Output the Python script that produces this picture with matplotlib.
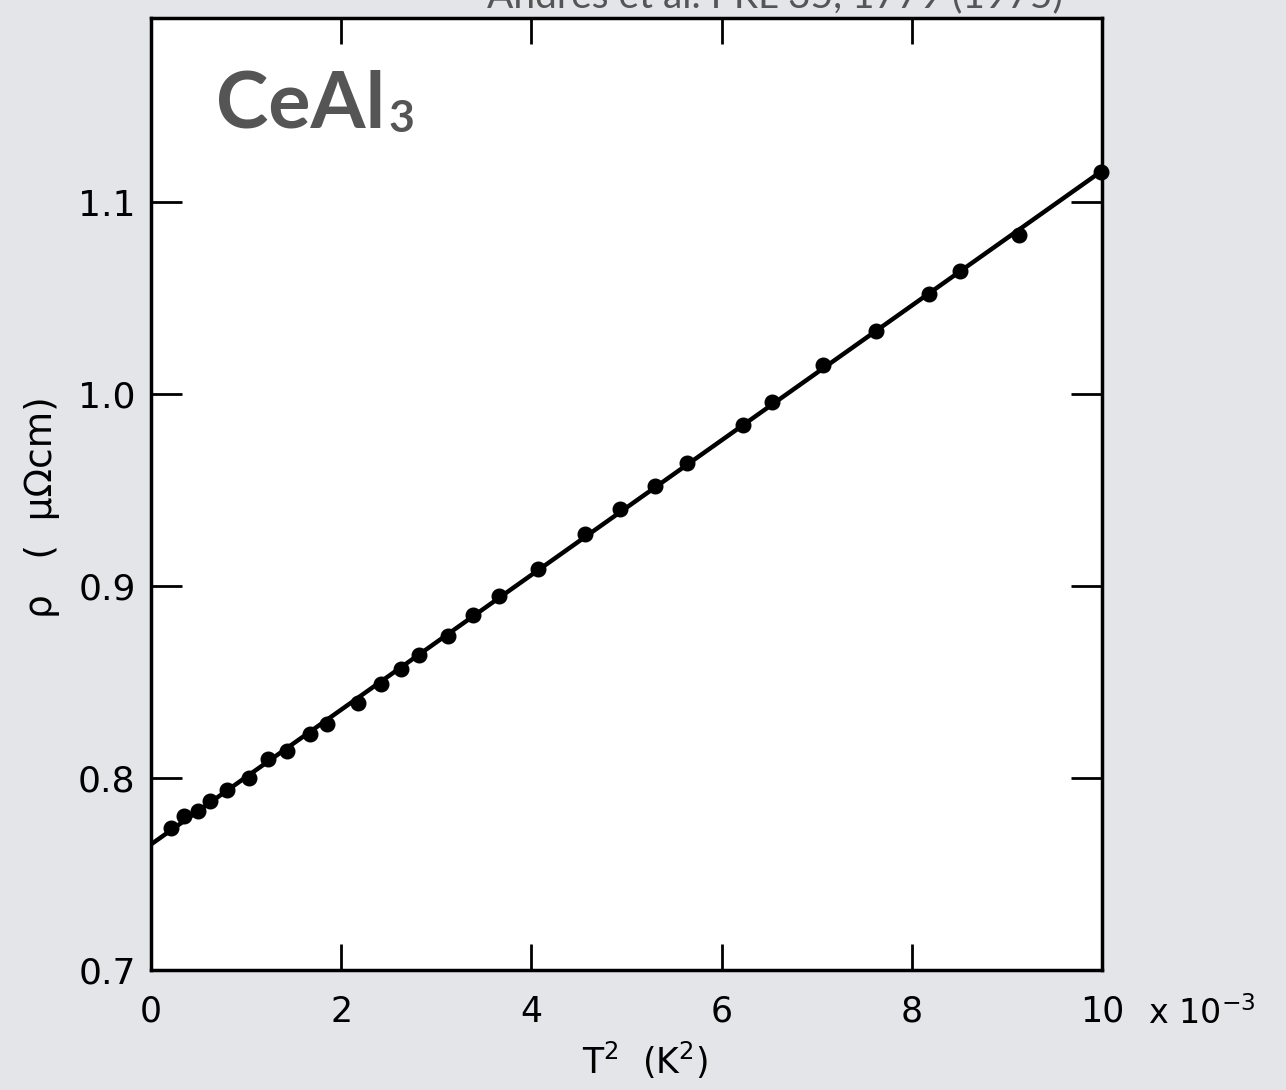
import numpy as np
import matplotlib
matplotlib.use("Agg")
import matplotlib.pyplot as plt

# resistivity of CeAl3 vs T^2 (T^2 in units of 1e-3 K^2)
t2 = [0.21, 0.35, 0.49, 0.62, 0.80, 1.03, 1.23, 1.43, 1.67, 1.85,
      2.18, 2.42, 2.63, 2.82, 3.12, 3.39, 3.66, 4.07, 4.56, 4.93,
      5.30, 5.64, 6.22, 6.53, 7.07, 7.62, 8.18, 8.51, 9.13, 9.99]
rho = [0.774, 0.780, 0.783, 0.788, 0.794, 0.800, 0.810, 0.814, 0.823, 0.828,
       0.839, 0.849, 0.857, 0.864, 0.874, 0.885, 0.895, 0.909, 0.927, 0.940,
       0.952, 0.964, 0.984, 0.996, 1.015, 1.033, 1.052, 1.064, 1.083, 1.116]

xticks = [0, 2, 4, 6, 8, 10]
yticks = [0.7, 0.8, 0.9, 1.0, 1.1]
ytick_labels = ["0.7", "0.8", "0.9", "1.0", "1.1"]

W, H = 1286, 1090
fig = plt.figure(figsize=(W / 100, H / 100), dpi=100)
fig.patch.set_facecolor("#e3e5e9")

ax = fig.add_axes([151 / W, 1 - 970 / H, (1102 - 151) / W, (970 - 18) / H])
ax.set_facecolor("white")

# straight-line fit through the points
coef = np.polyfit(t2, rho, 1)
xl = np.array([0, 10])
ax.plot(xl, np.polyval(coef, xl), color="black", lw=3.2, solid_capstyle="butt", zorder=2)
ax.plot(t2, rho, "o", color="black", ms=10.5, zorder=3, clip_on=False)

ax.set_xlim(0, 10)
ax.set_ylim(0.7, 1.196)
for s in ax.spines.values():
    s.set_linewidth(2.5)

ax.set_xticks(xticks)
ax.set_xticklabels([str(v) for v in xticks], fontsize=25)
ax.set_yticks(yticks)
ax.set_yticklabels(ytick_labels, fontsize=26)
ax.tick_params(axis="x", direction="in", length=19, width=2, pad=18, top=True, bottom=True)
ax.tick_params(axis="y", direction="in", length=22, width=2, pad=11, left=True, right=True)

# x axis label and exponent
fig.text(645 / W, 1 - 1060 / H, r"T$^2$  (K$^2$)", fontsize=25, ha="center", va="center")
fig.text(1148 / W, 1 - 1024 / H, r"x 10$^{-3}$", fontsize=24, ha="left", va="baseline")

# y axis label
fig.text(42 / W, 1 - 507 / H, "\u03c1   (  \u03bc\u03a9cm)", fontsize=27, rotation=90,
         ha="center", va="center")

# compound name
name = fig.text(216 / W, 1 - 127 / H, "CeAl", fontsize=57, family="Lato", weight="bold",
                color="#555555", ha="left", va="baseline")
r = fig.canvas.get_renderer()
bb = name.get_window_extent(renderer=r)
fig.text(bb.x1 / W + 3 / W, 1 - 132 / H, "3", fontsize=32, family="Lato", weight="bold",
         color="#555555", ha="left", va="baseline")

# reference line at the top edge
fig.text(775 / W, 1 - 7 / H, "Andres et al. PRL 35, 1779 (1975)", fontsize=28,
         family="Lato", color="#555555", ha="center", va="baseline")

fig.savefig("out.png", dpi=100, facecolor=fig.get_facecolor())
